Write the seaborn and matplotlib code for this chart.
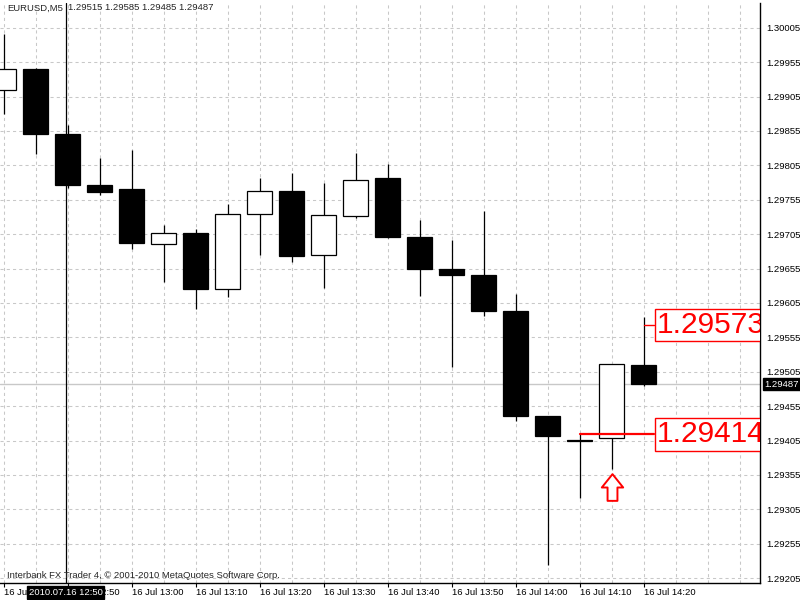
import numpy as np
import pandas as pd
import matplotlib
matplotlib.use('Agg')
import matplotlib.pyplot as plt
import matplotlib.transforms as mtransforms
from matplotlib.path import Path
import seaborn as sns

# EURUSD M5 bars, 16 Jul 2010
times = ["12:40", "12:45", "12:50", "12:55", "13:00", "13:05", "13:10", "13:15",
         "13:20", "13:25", "13:30", "13:35", "13:40", "13:45", "13:50", "13:55",
         "14:00", "14:05", "14:10", "14:15", "14:20"]
opens = [1.29915, 1.29945, 1.29851, 1.29777, 1.29771, 1.29690, 1.29707, 1.29625,
         1.29734, 1.29768, 1.29675, 1.29731, 1.29786, 1.29701, 1.29655, 1.29645,
         1.29594, 1.29441, 1.29406, 1.29409, 1.29515]
highs = [1.29996, 1.29946, 1.29864, 1.29815, 1.29828, 1.29718, 1.29712, 1.29749,
         1.29787, 1.29794, 1.29780, 1.29823, 1.29807, 1.29726, 1.29697, 1.29738,
         1.29618, 1.29441, 1.29414, 1.29516, 1.29585]
lows = [1.29879, 1.29821, 1.29772, 1.29762, 1.29684, 1.29635, 1.29596, 1.29613,
        1.29675, 1.29664, 1.29627, 1.29728, 1.29699, 1.29615, 1.29512, 1.29586,
        1.29433, 1.29224, 1.29322, 1.29363, 1.29485]
closes = [1.29945, 1.29850, 1.29776, 1.29767, 1.29692, 1.29707, 1.29625, 1.29734,
          1.29768, 1.29674, 1.29733, 1.29784, 1.29701, 1.29655, 1.29645, 1.29594,
          1.29440, 1.29411, 1.29405, 1.29516, 1.29487]

price_ticks = [1.29205, 1.29255, 1.29305, 1.29355, 1.29405, 1.29455, 1.29505,
               1.29555, 1.29605, 1.29655, 1.29705, 1.29755, 1.29805, 1.29855,
               1.29905, 1.29955, 1.30005]

bid = 1.29487
labels_hi_lo = [(1.29573, 20), (1.29414, 18)]   # (price, bar index it starts from)
arrow_bar = 19
arrow_price = 1.29337
cross_bar = 2
cross_label = "2010.07.16 12:50"

df = pd.DataFrame({"time": times, "open": opens, "high": highs,
                   "low": lows, "close": closes})
df["idx"] = np.arange(len(df))
df["bull"] = df["close"] >= df["open"]

sns.set_theme(style="white")
plt.rcParams['font.family'] = ['Liberation Sans', 'DejaVu Sans']

fig = plt.figure(figsize=(8, 6), dpi=100)
ax = fig.add_axes([0, 17 / 600, 760 / 800, 580 / 600])

lw = 0.9
# wicks + bodies
ax.vlines(df["idx"], df["low"], df["high"], color="black", lw=lw, zorder=2)
ax.bar(df["idx"], df["close"] - df["open"], bottom=df["open"], width=0.78,
       color=np.where(df["bull"], "white", "black"), edgecolor="black",
       linewidth=lw, zorder=3)

# bid line
ax.axhline(bid, color="#c8c8c8", lw=1, zorder=1)

# vertical crosshair line
ax.axvline(cross_bar - 0.06, color="black", lw=lw, zorder=4)

# high / low price labels
for price, x0 in labels_hi_lo:
    ax.plot([x0, 20.33], [price, price], color="red",
            lw=1.6 if x0 != 20 else 1.0, zorder=5)
    ax.text(20.42, price, f"{price:.5f}", color="red", fontsize=21.5,
            ha="left", va="center", clip_on=True, zorder=6,
            bbox=dict(boxstyle="square,pad=0.08", fc="white", ec="red", lw=1))

# hollow up arrow
arrow = Path([(0, 1), (0.8, 0), (0.37, 0), (0.37, -1), (-0.37, -1),
              (-0.37, 0), (-0.8, 0), (0, 1)],
             [Path.MOVETO] + [Path.LINETO] * 6 + [Path.CLOSEPOLY])
sns.scatterplot(x=[arrow_bar], y=[arrow_price], marker=arrow, s=370,
                facecolor="white", edgecolor="red", linewidth=1.4,
                zorder=6, ax=ax)

# axes, grid
ax.set_xlim(-0.11, 23.64)
ax.set_ylim(1.29198, 1.30041)
ax.set_yticks(price_ticks)
ax.set_yticklabels([f"{p:.5f}" for p in price_ticks])
ax.yaxis.tick_right()

major = df["idx"][::2]
ax.set_xticks(major)
ax.set_xticklabels(["16 Jul " + t for t in df["time"][::2]], ha="left")
ax.set_xticks(np.arange(0, 24), minor=True)
offset = mtransforms.ScaledTranslation(2 / 100, 0, fig.dpi_scale_trans)
for lab in ax.get_xticklabels():
    lab.set_transform(lab.get_transform() + offset)

ax.tick_params(axis="y", which="major", right=True, left=False, labelright=True,
               labelleft=False, length=3, width=0.8, pad=1.2, labelsize=6.8,
               direction="out", colors="black")
ax.tick_params(axis="x", which="major", bottom=True, length=3, width=0.8,
               pad=0.8, labelsize=6.8, direction="out", colors="black")
ax.tick_params(axis="x", which="minor", length=0)

ax.grid(True, axis="y", which="major", color="#c8c8c8", lw=0.75,
        linestyle=(0, (3, 3)))
ax.grid(True, axis="x", which="both", color="#c8c8c8", lw=0.75,
        linestyle=(0, (3, 3)))
ax.set_axisbelow(True)

sns.despine(ax=ax, left=True, top=True, right=False, bottom=False)
for side in ("right", "bottom"):
    ax.spines[side].set_color("black")
    ax.spines[side].set_linewidth(1)
ax.set_xlabel("")
ax.set_ylabel("")

# bid price tag on the axis
ax.annotate(f"{bid:.5f}", xy=(1, bid), xycoords=("axes fraction", "data"),
            xytext=(3, 0), textcoords="offset points", ha="left", va="center",
            color="white", fontsize=6.8, annotation_clip=False, zorder=10,
            bbox=dict(boxstyle="square,pad=0.15", fc="black", ec="black"))

# crosshair date tag on the time axis
ax.annotate(cross_label, xy=(cross_bar - 0.06, 0),
            xycoords=("data", "axes fraction"), xytext=(0, -7),
            textcoords="offset points", ha="center", va="center",
            color="white", fontsize=6.8, annotation_clip=False, zorder=10,
            bbox=dict(boxstyle="square,pad=0.2", fc="black", ec="black"))

fig.text(7 / 800, 1 - 8 / 600, "EURUSD,M5", fontsize=6.8, va="center")
fig.text(68 / 800, 1 - 8 / 600,
         f"{opens[-1]:.5f} {highs[-1]:.5f} {lows[-1]:.5f} {closes[-1]:.5f}",
         fontsize=6.8, va="center")
fig.text(7 / 800, 1 - 575 / 600,
         "Interbank FX Trader 4, \u00a9 2001-2010 MetaQuotes Software Corp.",
         fontsize=6.8, va="center")

fig.savefig("out.png", dpi=100, facecolor="white")
